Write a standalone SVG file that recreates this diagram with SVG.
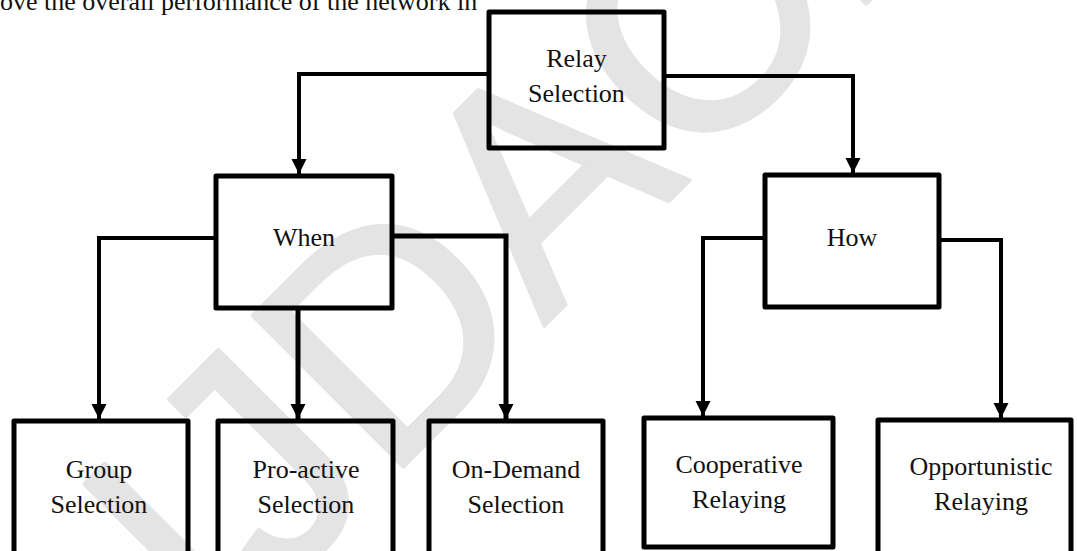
<svg xmlns="http://www.w3.org/2000/svg" width="1077" height="551" viewBox="0 0 1077 551">
<style>
.box{fill:none;stroke:#000;stroke-width:5;stroke-linejoin:round}
.con{fill:none;stroke:#000;stroke-width:4}
.lbl{font-family:"Liberation Serif","Times New Roman",serif;font-size:26px;fill:#111;text-anchor:middle}
.body{font-family:"Liberation Serif","Times New Roman",serif;font-size:26px;fill:#111}
.wm{font-family:"Liberation Sans",Arial,sans-serif;font-size:310px;fill:#e4e4e4;stroke:#e4e4e4;stroke-width:4;stroke-linejoin:round}
</style>
<defs>
<marker id="arr" markerUnits="userSpaceOnUse" markerWidth="16" markerHeight="16" refX="15" refY="7.5" orient="auto">
<path d="M0,0 L15,7.5 L0,15 Z" fill="#000"/>
</marker>
</defs>
<rect width="1077" height="551" fill="#fff"/>
<text class="wm" transform="translate(215,655) rotate(-45)">IJDACR</text>
<text class="body" x="0" y="10">ove the overall performance of the network in</text>
<g id="connectors">
<path class="con" d="M489,74 H299 V174" marker-end="url(#arr)"/>
<path class="con" d="M664,76 H853 V173" marker-end="url(#arr)"/>
<path class="con" d="M216,238 H99 V419" marker-end="url(#arr)"/>
<path class="con" d="M298,308 V419" style="stroke-width:5" marker-end="url(#arr)"/>
<path class="con" d="M392,236 H506 V419" style="stroke-width:5" marker-end="url(#arr)"/>
<path class="con" d="M765,238 H703 V416" marker-end="url(#arr)"/>
<path class="con" d="M939,240 H1001 V418" marker-end="url(#arr)"/>
</g>
<g id="relay">
<rect class="box" x="489" y="12" width="175" height="136"/>
<text class="lbl" x="576.5" y="67">Relay</text>
<text class="lbl" x="576.5" y="102">Selection</text>
</g>
<g id="when">
<rect class="box" x="216" y="176" width="176" height="132"/>
<text class="lbl" x="304" y="246">When</text>
</g>
<g id="how">
<rect class="box" x="765" y="175" width="174" height="132"/>
<text class="lbl" x="852" y="246">How</text>
</g>
<g id="group">
<rect class="box" x="14" y="421" width="174" height="140"/>
<text class="lbl" x="99" y="477.5">Group</text>
<text class="lbl" x="99" y="512.5">Selection</text>
</g>
<g id="proactive">
<rect class="box" x="218" y="421" width="175" height="140"/>
<text class="lbl" x="306" y="477.5">Pro-active</text>
<text class="lbl" x="306" y="512.5">Selection</text>
</g>
<g id="ondemand">
<rect class="box" x="429" y="421" width="174" height="140"/>
<text class="lbl" x="516" y="477.5">On-Demand</text>
<text class="lbl" x="516" y="512.5">Selection</text>
</g>
<g id="cooperative">
<rect class="box" x="644" y="418" width="189" height="129"/>
<text class="lbl" x="739" y="473">Cooperative</text>
<text class="lbl" x="739" y="508">Relaying</text>
</g>
<g id="opportunistic">
<rect class="box" x="878" y="420" width="193" height="140"/>
<text class="lbl" x="981" y="475">Opportunistic</text>
<text class="lbl" x="981" y="510">Relaying</text>
</g>
</svg>
